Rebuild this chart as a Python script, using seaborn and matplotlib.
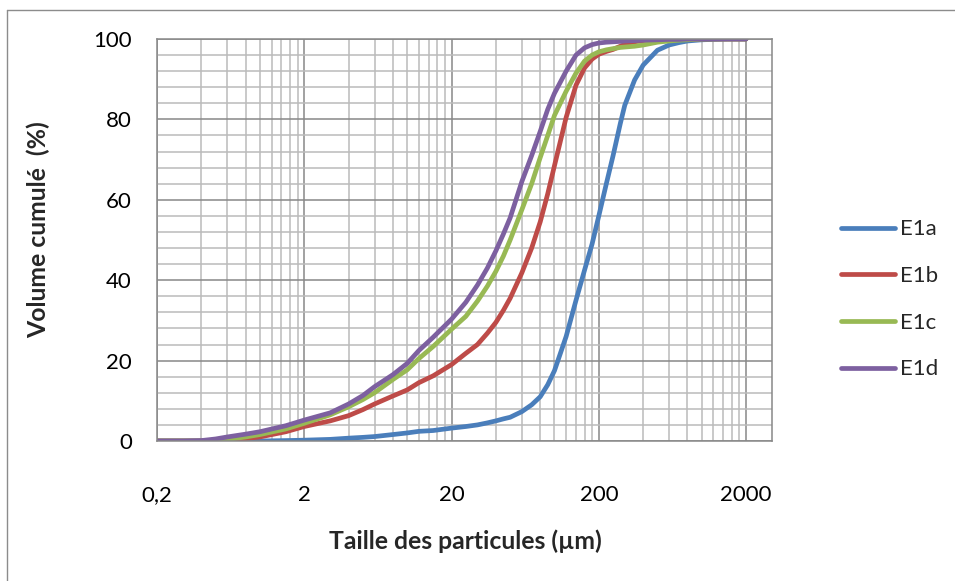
import numpy as np
import pandas as pd
import matplotlib.pyplot as plt
import matplotlib.ticker as mticker
from matplotlib.lines import Line2D
import seaborn as sns

# particle size (µm) and cumulative volume (%)
taille = [0.2, 0.3, 0.4, 0.5, 0.6, 0.8, 1, 1.5, 2, 3, 4, 5, 6, 8, 10, 12, 15, 20,
          25, 30, 35, 40, 45, 50, 60, 70, 80, 90, 100, 120, 140, 160, 180, 200,
          225, 250, 280, 300, 350, 400, 500, 600, 700, 800, 1000, 1500, 2000]

e1a = [0, 0, 0, 0, 0, 0, 0, 0.1, 0.2, 0.4, 0.7, 0.9, 1.1, 1.6, 2.0, 2.4, 2.6, 3.2,
       3.6, 4.0, 4.5, 5.0, 5.5, 5.9, 7.3, 9.0, 11.0, 14.0, 17.5, 26.0, 35.0, 42.5, 49.0, 56.0,
       64.0, 71.0, 79.0, 83.5, 89.8, 93.5, 97.2, 98.5, 99.1, 99.5, 99.8, 100, 100]

e1b = [0, 0, 0, 0, 0.2, 0.6, 1.0, 2.3, 3.6, 5.0, 6.3, 7.8, 9.2, 11.2, 12.7, 14.5, 16.2, 19.0,
       21.8, 24.0, 26.8, 29.5, 32.5, 35.5, 41.8, 48.0, 54.5, 61.5, 68.5, 80.5, 88.5, 92.8, 95.0, 96.2,
       96.9, 97.4, 98.2, 98.7, 99.3, 99.6, 99.8, 99.9, 100, 100, 100, 100, 100]

e1c = [0, 0, 0, 0.1, 0.4, 1.0, 1.6, 3.0, 4.4, 6.5, 8.5, 10.3, 12.0, 15.3, 17.7, 20.5, 23.5, 27.8,
       31.0, 34.8, 38.5, 42.2, 46.0, 50.0, 57.5, 64.0, 70.5, 76.0, 81.0, 87.0, 91.5, 94.5, 96.0, 96.8,
       97.3, 97.6, 97.9, 98.0, 98.2, 98.5, 99.2, 99.5, 99.7, 99.8, 100, 100, 100]

e1d = [0, 0, 0.1, 0.5, 1.0, 1.7, 2.3, 3.8, 5.2, 7.0, 9.2, 11.3, 13.5, 16.5, 19.3, 22.5, 25.8, 30.3,
       34.5, 38.8, 43.0, 47.3, 51.5, 55.5, 64.5, 71.0, 77.0, 82.5, 86.5, 92.0, 96.0, 97.8, 98.6, 99.0,
       99.2, 99.3, 99.4, 99.5, 99.6, 99.7, 99.8, 99.9, 99.9, 100, 100, 100, 100]

series = ['E1a', 'E1b', 'E1c', 'E1d']
colors = ['#4A7EBB', '#BE4B48', '#98B954', '#7D60A0']

df = pd.DataFrame({'taille': taille, 'E1a': e1a, 'E1b': e1b, 'E1c': e1c, 'E1d': e1d})
df = df.melt(id_vars='taille', var_name='echantillon', value_name='volume')

sns.set_style('white')
plt.rcParams['font.family'] = ['Lato', 'DejaVu Sans']

fig = plt.figure(figsize=(9.55, 5.81), dpi=100)
ax = fig.add_axes([0.1644, 0.241, 0.644, 0.6919])

sns.lineplot(data=df, x='taille', y='volume', hue='echantillon', hue_order=series,
             palette=colors, linewidth=3.4, ax=ax, legend=False)

ax.set_xscale('log')
ax.set_xlim(0.2, 3000)
ax.set_ylim(0, 100)

majors = [0.2, 2, 20, 200, 2000]
minors = [m * k for m in majors for k in range(2, 10) if m * k < 3000]
ax.xaxis.set_major_locator(mticker.FixedLocator(majors))
ax.xaxis.set_minor_locator(mticker.FixedLocator(minors))
ax.xaxis.set_major_formatter(mticker.FixedFormatter(['0,2', '2', '20', '200', '2000']))
ax.xaxis.set_minor_formatter(mticker.NullFormatter())
ax.yaxis.set_major_locator(mticker.MultipleLocator(20))
ax.yaxis.set_minor_locator(mticker.MultipleLocator(4))

ax.grid(which='major', color='#888888', linewidth=1.1)
ax.grid(which='minor', color='#BBBBBB', linewidth=1.1)
ax.set_axisbelow(True)

for s in ax.spines.values():
    s.set_color('#888888')
    s.set_linewidth(1.1)

ax.tick_params(which='major', direction='out', length=5, width=1, color='#888888',
               labelsize=16, labelcolor='black')
ax.tick_params(axis='x', which='major', pad=27)
ax.tick_params(axis='y', which='major', pad=13)
ax.tick_params(which='minor', length=0)

ax.set_xlabel('Taille des particules (µm)', fontsize=17.8, fontweight='bold')
ax.set_ylabel('Volume cumulé  (%)', fontsize=17.8, fontweight='bold')
ax.xaxis.set_label_coords(0.5016, -0.221)
ax.yaxis.set_label_coords(-0.174, 0.525)

handles = [Line2D([0], [0], color=c, linewidth=3.4, solid_capstyle='round') for c in colors]
fig.legend(handles, series, loc='upper left', bbox_to_anchor=(0.860, 0.657), frameon=False,
           fontsize=16, handlelength=2.4, handletextpad=0.25, labelspacing=1.2)

# outer chart frame (only the top and left edges are visible)
fig.add_artist(Line2D([7 / 955, 7 / 955], [0, 1 - 10 / 581], transform=fig.transFigure,
                      color='#8C8C8C', linewidth=1))
fig.add_artist(Line2D([7 / 955, 1], [1 - 10 / 581, 1 - 10 / 581], transform=fig.transFigure,
                      color='#8C8C8C', linewidth=1))

fig.savefig('out.png', dpi=100)
